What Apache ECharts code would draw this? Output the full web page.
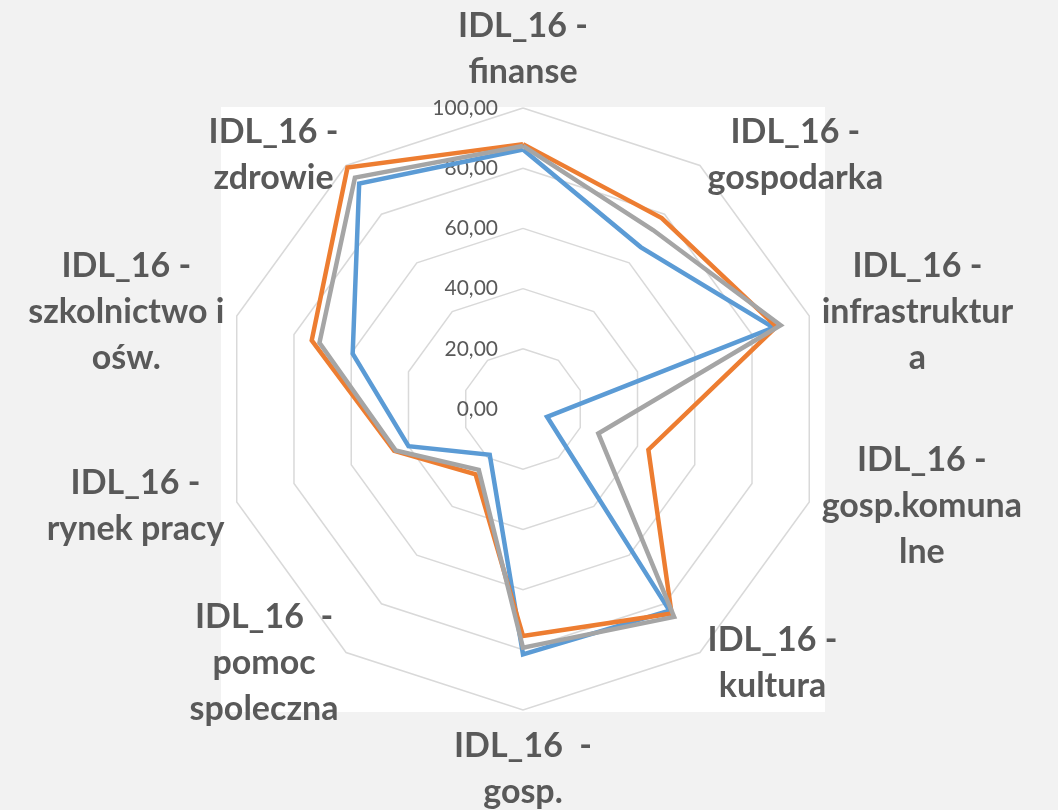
<!DOCTYPE html>
<html>
<head>
<meta charset="utf-8">
<script src="https://cdn.jsdelivr.net/npm/echarts@6/dist/echarts.min.js"></script>
<style>
  html, body { margin: 0; padding: 0; background: #f2f2f2; }
  #chart { width: 1058px; height: 810px; }
</style>
</head>
<body>
<div id="chart"></div>
<script>
// categories in clockwise order, starting at the top
const categories = [
  'IDL_16 -\nfinanse',
  'IDL_16 -\ngospodarka',
  'IDL_16 -\ninfrastruktur\na',
  'IDL_16 -\ngosp.komuna\nlne',
  'IDL_16 -\nkultura',
  'IDL_16  -\ngosp.',
  'IDL_16  -\npomoc\nspoleczna',
  'IDL_16 -\nrynek pracy',
  'IDL_16 -\nszkolnictwo i\nośw.',
  'IDL_16 -\nzdrowie'
]
const seriesBlue = [86.2, 66.5, 87.5, 8.4, 82.8, 81.5, 18.8, 40.0, 59.5, 92.6]
const seriesOrange = [88.0, 78.4, 88.5, 43.8, 84.0, 75.4, 26.8, 45.0, 73.8, 99.2]
const seriesGray = [87.4, 73.5, 90.0, 26.3, 85.4, 79.3, 25.0, 44.5, 71.1, 95.0]
const axisMin = 0
const axisMax = 100

// echarts radar runs counter-clockwise, so keep the first item and reverse the rest
const order = [0].concat(categories.map((c, i) => i).slice(1).reverse())
const pick = arr => order.map(i => arr[i])

const chart = echarts.init(document.getElementById('chart'))

const nameFont = {
  color: '#595959',
  fontFamily: 'Lato',
  fontWeight: 'bold',
  fontSize: 34,
  lineHeight: 46
}

const lineSeries = (name, values, color) => ({
  name: name,
  value: pick(values),
  symbol: 'none',
  lineStyle: { color: color, width: 4.5, join: 'miter' },
  itemStyle: { color: color }
})

const option = {
  backgroundColor: '#f2f2f2',
  animation: false,
  grid: {
    show: true,
    left: 221,
    top: 107,
    width: 604,
    height: 605,
    backgroundColor: '#ffffff',
    borderWidth: 0
  },
  xAxis: { type: 'value', show: false },
  yAxis: { type: 'value', show: false },
  radar: {
    center: [523, 409],
    radius: 301,
    startAngle: 90,
    shape: 'polygon',
    splitNumber: 5,
    nameGap: 13,
    axisName: Object.assign({}, nameFont, {
      formatter: name => name.split('\n').map(s => '{c|' + s + '}').join('\n'),
      rich: { c: Object.assign({ align: 'center' }, nameFont) }
    }),
    splitLine: { lineStyle: { color: '#d9d9d9', width: 1.5 } },
    splitArea: { show: false },
    axisLine: { show: false },
    axisTick: { show: false },
    axisLabel: {
      show: false,
      color: '#595959',
      fontFamily: 'Lato',
      fontSize: 21,
      margin: 25,
      formatter: v => v.toFixed(2).replace('.', ',')
    },
    indicator: pick(categories).map((n, i) => {
      const ind = { name: n, min: axisMin, max: axisMax }
      if (i === 0) ind.axisLabel = { show: true }
      return ind
    })
  },
  series: [{
    type: 'radar',
    data: [
      lineSeries('blue', seriesBlue, '#5b9bd5'),
      lineSeries('orange', seriesOrange, '#ed7d31'),
      lineSeries('gray', seriesGray, '#a5a5a5')
    ]
  }]
}

chart.setOption(option)
</script>
</body>
</html>
